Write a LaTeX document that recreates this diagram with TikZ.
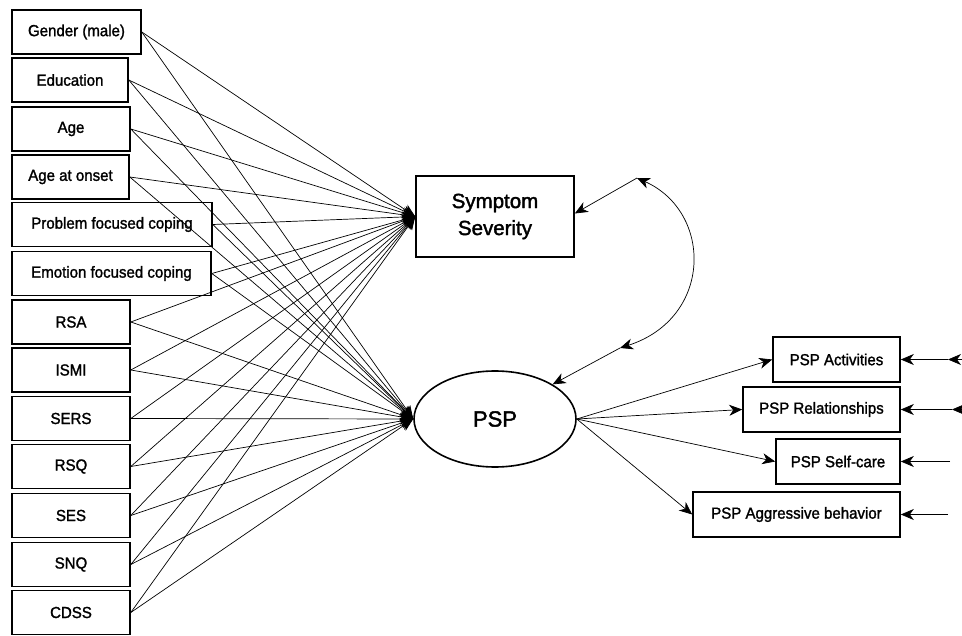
\documentclass[tikz,border=0pt]{standalone}
\usepackage{fontspec}
\setmainfont{Liberation Sans}
\newfontfamily\lblfont{Liberation Sans}[FakeStretch=0.94, FakeBold=1.5]
\newfontfamily\bigfont{Liberation Sans}[FakeBold=1.8]
\usetikzlibrary{arrows.meta, shapes.geometric}

\begin{document}
\begin{tikzpicture}[x=1pt, y=-1pt,
    obs/.style={draw, line width=1.6pt, inner sep=0pt, minimum height=44pt,
        font=\lblfont\fontsize{16}{18}\selectfont},
    lat/.style={draw, ellipse, line width=1.6pt, inner sep=0pt,
        minimum width=162pt, minimum height=96pt},
    arr/.style={-{Stealth[length=13pt,width=11pt,inset=4pt]}, line width=0.7pt}]
\useasboundingbox (0,0) rectangle (962,636);

% predictors
\foreach \n/\x/\y/\w/\t in {
    gender/76.5/32/129/{Gender (male)},
    edu/70/80/116/Education,
    age/71/129/118/Age,
    onset/70.5/177/117/{Age at onset},
    pfc/112/224.5/200/{Problem focused coping},
    efc/111.5/273.5/199/{Emotion focused coping},
    rsa/71/322/118/RSA,
    ismi/71/370/118/ISMI,
    sers/71/418.5/118/SERS,
    rsq/71/466.5/118/RSQ,
    ses/71/515.5/118/SES,
    snq/71/564.5/118/SNQ,
    cdss/71/612.5/118/CDSS}
    \node[obs, minimum width=\w pt] (\n) at (\x,\y) {\t};

% outcomes
\node[obs, minimum width=158pt, minimum height=81pt, align=center,
    font=\bigfont\fontsize{20.5}{27}\selectfont] (ss) at (495,216.5) {Symptom\\Severity};
\node[lat, font=\bigfont\fontsize{22}{26}\selectfont] (psp) at (495,419) {PSP};

% PSP indicators
\foreach \n/\x/\y/\w/\t in {
    act/836.5/359.5/127/{PSP Activities},
    rel/821.5/409.5/157/{PSP Relationships},
    self/838/461.5/124/{PSP Self-care},
    aggr/796.5/514.5/207/{PSP Aggressive behavior}}
    \node[obs, minimum width=\w pt, minimum height=45pt] (\n) at (\x,\y) {\t};

\foreach \n in {gender,edu,age,onset,pfc,efc,rsa,ismi,sers,rsq,ses,snq,cdss} {
    \draw[arr] (\n.east) -- (ss.west);
    \draw[arr] (\n.east) -- (psp.west);
}

\foreach \n in {act,rel,self,aggr}
    \draw[arr] (psp.east) -- (\n.west);

% residuals
\foreach \n/\x in {act/948, rel/952, self/950, aggr/948} {
    \coordinate (r\n) at (\x,0 |- \n.east);
    \draw[arr] (r\n) -- (\n.east);
}
\draw[arr] ([xshift=14pt]ract) -- (ract);
\draw[arr] ([xshift=12pt]rrel) -- (rrel);

% covariance
\coordinate (c1) at (637,178);
\coordinate (c2) at (620,348);
\draw[arr, {Stealth[length=13pt,width=11pt,inset=4pt]}-{Stealth[length=13pt,width=11pt,inset=4pt]}]
    (c1) .. controls (713,212) and (713,318) .. (c2);
\draw[arr] (c1) -- ([yshift=3pt]ss.east);
\draw[arr] (c2) -- (psp.31);

\end{tikzpicture}
\end{document}
